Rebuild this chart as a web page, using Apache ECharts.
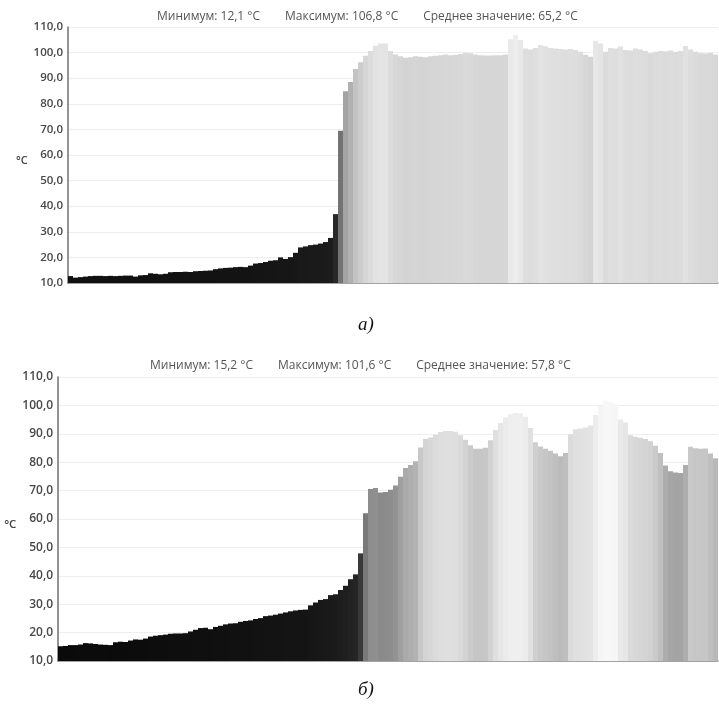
<!DOCTYPE html>
<html>
<head>
<meta charset="utf-8">
<script src="https://cdn.jsdelivr.net/npm/echarts@6/dist/echarts.min.js"></script>
<style>
  html, body { margin: 0; padding: 0; background: #fff; }
  #chart { width: 719px; height: 707px; }
</style>
</head>
<body>
<div id="chart"></div>
<script>
// а) temperatures per position, °C
var tempsA = [
    12.7, 12.1, 12.3, 12.5, 12.7, 12.8, 12.8, 12.7, 12.8, 12.7, 12.8, 12.9, 12.9, 12.5, 13.0, 13.1, 13.8, 13.6,
    13.4, 13.6, 14.2, 14.3, 14.3, 14.4, 14.3, 14.6, 14.7, 14.8, 14.9, 15.4, 15.7, 15.9, 16.0, 16.2, 16.3, 16.2,
    16.8, 17.6, 17.8, 18.2, 18.7, 18.9, 20.0, 19.4, 20.1, 21.8, 23.9, 24.3, 24.8, 25.0, 25.4, 26.0, 27.6, 36.9,
    69.5, 84.9, 88.5, 93.6, 96.2, 98.8, 100.6, 102.7, 103.6, 103.6, 100.6, 99.3, 98.6, 98.0, 98.2, 98.6, 98.4,
    98.2, 98.6, 98.8, 99.0, 99.3, 99.0, 99.2, 99.5, 99.9, 99.7, 99.3, 99.0, 98.9, 98.9, 99.0, 99.0, 99.3,
    105.2, 106.8, 104.9, 101.6, 101.2, 101.8, 103.0, 102.5, 101.8, 101.6, 101.4, 101.2, 101.4, 101.0, 100.3,
    99.2, 98.4, 104.6, 103.6, 100.3, 101.8, 101.6, 102.4, 101.0, 100.8, 101.6, 101.2, 100.6, 99.7, 100.3,
    100.6, 100.5, 100.8, 100.3, 100.6, 102.6, 101.2, 100.3, 99.7, 99.6, 99.8, 99.3
];
// б) temperatures per position, °C
var tempsB = [
    15.2, 15.3, 15.6, 15.6, 15.8, 16.3, 16.2, 16.0, 15.8, 15.7, 15.6, 16.6, 16.8, 16.7, 17.2, 17.6, 17.5, 17.9,
    18.6, 18.9, 19.1, 19.3, 19.6, 19.7, 19.7, 19.8, 20.4, 21.0, 21.6, 21.7, 21.2, 22.0, 22.4, 22.9, 23.2, 23.3,
    23.8, 24.1, 24.3, 24.8, 25.1, 25.8, 26.0, 26.3, 26.7, 27.1, 27.5, 27.8, 28.0, 28.1, 29.6, 30.6, 31.5, 31.8,
    33.2, 33.5, 35.0, 36.5, 38.8, 40.5, 47.9,
    62.0, 70.6, 70.9, 69.3, 69.5, 70.3, 71.8, 74.9, 78.0, 79.0, 80.3, 85.2, 88.2, 88.7, 89.7, 90.6, 91.0, 91.0,
    90.7, 89.5, 87.9, 86.0, 84.7, 84.7, 85.1, 87.7, 91.3, 93.8, 95.7, 96.9, 97.3, 97.2, 96.0, 92.0,
    87.0, 85.5, 84.7, 84.0, 83.1, 82.1, 83.2, 89.8, 91.6, 91.9, 92.2, 92.9, 96.6, 99.8, 101.6, 101.2, 100.4,
    95.0, 94.0, 89.5, 89.0, 88.6, 88.2, 87.4, 85.8, 83.2, 78.8, 76.8, 76.4, 76.2, 79.0, 85.4, 84.9, 84.7,
    84.8, 83.1, 81.4
];
var catsA = tempsA.map(function (v, i) { return String(i + 1); });
var catsB = tempsB.map(function (v, i) { return String(i + 1); });
var titleA = 'Минимум: 12,1 °C        Максимум: 106,8 °C        Среднее значение: 65,2 °C';
var titleB = 'Минимум: 15,2 °C        Максимум: 101,6 °C        Среднее значение: 57,8 °C';
var yTicks = [10, 20, 30, 40, 50, 60, 70, 80, 90, 100, 110];

var chart = echarts.init(document.getElementById('chart'));

var fmt = function (v) {
    return v.toFixed(1).replace('.', ',');
};

var makeY = function (idx, size, gap) {
    return {
        gridIndex: idx,
        type: 'value',
        min: yTicks[0],
        max: yTicks[yTicks.length - 1],
        interval: 10,
        name: '°C',
        nameLocation: 'middle',
        nameRotate: 0,
        nameGap: gap,
        nameTextStyle: {
            color: '#444', fontSize: size - 0.5, fontFamily: 'Open Sans', fontWeight: 600,
            verticalAlign: 'top'
        },
        axisLine: {show: true, lineStyle: {color: '#707070', width: 1.5}},
        axisTick: {show: false},
        axisLabel: {
            formatter: fmt, color: '#484848', fontSize: size, fontFamily: 'Open Sans',
            fontWeight: 600, margin: 5
        },
        splitLine: {show: true, lineStyle: {color: '#eeeeee', width: 1}}
    };
};

var makeX = function (idx, cats) {
    return {
        gridIndex: idx,
        type: 'category',
        data: cats,
        boundaryGap: true,
        axisLine: {show: true, lineStyle: {color: '#8a8a8a', width: 1.5}},
        axisTick: {show: false},
        axisLabel: {show: false},
        splitLine: {show: false}
    };
};

var option = {
    animation: false,
    backgroundColor: '#ffffff',
    title: [{
        text: titleA,
        left: 152,
        top: 6,
        textStyle: {color: '#555', fontSize: 12, fontWeight: 'normal', fontFamily: 'Open Sans'}
    }, {
        text: titleB,
        left: 145,
        top: 355,
        textStyle: {color: '#555', fontSize: 12, fontWeight: 'normal', fontFamily: 'Open Sans'}
    }],
    grid: [
        {left: 68, right: 1, top: 27, height: 256, outerBoundsMode: 'none'},
        {left: 58, right: 1, top: 377, height: 284, outerBoundsMode: 'none'}
    ],
    xAxis: [makeX(0, catsA), makeX(1, catsB)],
    yAxis: [makeY(0, 11.5, 38), makeY(1, 12, 34)],
    visualMap: [{
        type: 'continuous',
        show: false,
        seriesIndex: 0,
        min: 10,
        max: 110,
        inRange: {
            color: ['#0e0e0e', '#161616', '#1e1e1e', '#2c2c2c', '#444444', '#5a5a5a',
                '#747474', '#929292', '#b6b6b6', '#dadada', '#f6f6f6']
        }
    }, {
        type: 'continuous',
        show: false,
        seriesIndex: 1,
        min: 10,
        max: 110,
        inRange: {
            color: ['#060606', '#0e0e0e', '#161616', '#242424', '#3e3e3e', '#767676',
                '#8c8c8c', '#b2b2b2', '#dcdcdc', '#f6f6f6', '#ffffff']
        }
    }],
    series: [{
        name: 'а',
        type: 'bar',
        xAxisIndex: 0,
        yAxisIndex: 0,
        barCategoryGap: '0%',
        data: tempsA
    }, {
        name: 'б',
        type: 'bar',
        xAxisIndex: 1,
        yAxisIndex: 1,
        barCategoryGap: '0%',
        data: tempsB
    }],
    graphic: [{
        type: 'text',
        left: 358,
        top: 315,
        style: {text: 'а)', font: 'italic 19px "Liberation Serif"', fill: '#111'}
    }, {
        type: 'text',
        left: 358,
        top: 680,
        style: {text: 'б)', font: 'italic 19px "Liberation Serif"', fill: '#111'}
    }]
};

chart.setOption(option);
</script>
</body>
</html>
